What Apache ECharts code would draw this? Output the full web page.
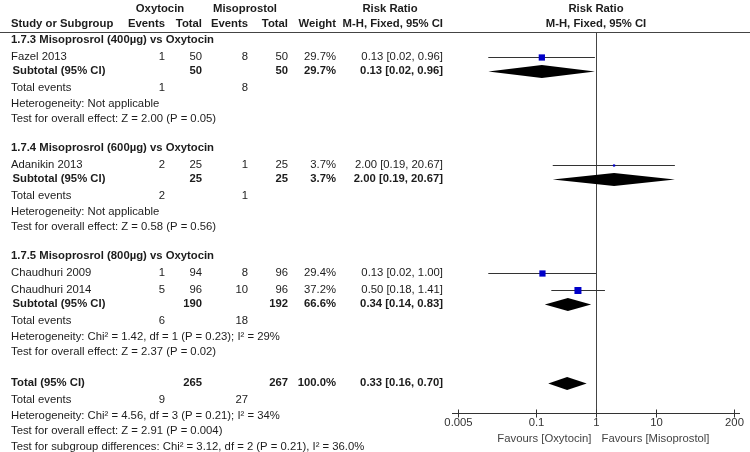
<!DOCTYPE html>
<html><head><meta charset="utf-8">
<script src="https://cdn.jsdelivr.net/npm/echarts@6/dist/echarts.min.js"></script>
<style>html,body{margin:0;padding:0;background:#fff}#c{width:750px;height:452px}</style>
</head><body><div id="c"></div>
<script>
// ---------- DATA ----------
const groupTitles = ['1.7.3 Misoprosrol (400µg) vs Oxytocin', '1.7.4 Misoprosrol (600µg) vs Oxytocin', '1.7.5 Misoprosrol (800µg) vs Oxytocin'];
const studyNames = ['Fazel 2013', 'Adanikin 2013', 'Chaudhuri 2009', 'Chaudhuri 2014'];
const studyGroup = [0, 1, 2, 2];
const oxEvents = [1, 2, 1, 5];
const oxTotal = [50, 25, 94, 96];
const misoEvents = [8, 1, 8, 10];
const misoTotal = [50, 25, 96, 96];
const studyWeight = [29.7, 3.7, 29.4, 37.2];
const studyRRText = ['0.13 [0.02, 0.96]', '2.00 [0.19, 20.67]', '0.13 [0.02, 1.00]', '0.50 [0.18, 1.41]'];
const studyRR = [0.125, 2.0, 0.128, 0.5];
const studyLow = [0.016, 0.19, 0.016, 0.18];
const studyHigh = [0.96, 20.67, 1.00, 1.41];

const subOxTotal = [50, 25, 190];
const subMisoTotal = [50, 25, 192];
const subWeight = [29.7, 3.7, 66.6];
const subRRText = ['0.13 [0.02, 0.96]', '2.00 [0.19, 20.67]', '0.34 [0.14, 0.83]'];
const subRR = [0.125, 2.0, 0.34];
const subLow = [0.016, 0.19, 0.14];
const subHigh = [0.96, 20.67, 0.83];
const subOxEvents = [1, 2, 6];
const subMisoEvents = [8, 1, 18];
const subHet = ['Heterogeneity: Not applicable', 'Heterogeneity: Not applicable', 'Heterogeneity: Chi² = 1.42, df = 1 (P = 0.23); I² = 29%'];
const subEffect = ['Test for overall effect: Z = 2.00 (P = 0.05)', 'Test for overall effect: Z = 0.58 (P = 0.56)', 'Test for overall effect: Z = 2.37 (P = 0.02)'];

const totalOxTotal = [265];
const totalMisoTotal = [267];
const totalWeight = [100.0];
const totalRRText = ['0.33 [0.16, 0.70]'];
const totalRR = [0.33];
const totalLow = [0.16];
const totalHigh = [0.70];
const totalOxEvents = [9];
const totalMisoEvents = [27];
const totalNotes = ['Heterogeneity: Chi² = 4.56, df = 3 (P = 0.21); I² = 34%', 'Test for overall effect: Z = 2.91 (P = 0.004)', 'Test for subgroup differences: Chi² = 3.12, df = 2 (P = 0.21), I² = 36.0%'];

const tickVals = [0.005, 0.1, 1, 10, 200];
const tickLabels = ['0.005', '0.1', '1', '10', '200'];
const favoursLeft = 'Favours [Oxytocin]';
const favoursRight = 'Favours [Misoprostol]';

// ---------- LAYOUT / STYLE ----------
const FONT = '11.3px "Liberation Sans", Arial, sans-serif';
const BOLD = 'bold 11.3px "Liberation Sans", Arial, sans-serif';
const TXT = '#1c1c1c';
const COL = {name: 11, sub: 12.5, oxE: 165, oxT: 202, miE: 248, miT: 288, w: 336, rr: 443};
const HEADER_LINE_Y = 32;
const AXIS_Y = 413;
const axisPad = Math.pow(10, 0.1);

const texts = [];
function t(str, x, y, align, bold, color) {
  texts.push({type: 'text', x: x, y: y, silent: true,
    style: {text: String(str), font: bold ? BOLD : FONT, fill: color || TXT, align: align || 'left', verticalAlign: 'middle'}});
}
// headers
t('Oxytocin', 160, 8.5, 'center', true);
t('Misoprostol', 245, 8.5, 'center', true);
t('Risk Ratio', 390, 8.5, 'center', true);
t('Risk Ratio', 596, 8.5, 'center', true);
t('Study or Subgroup', COL.name, 24, 'left', true);
t('Events', COL.oxE, 24, 'right', true);
t('Total', COL.oxT, 24, 'right', true);
t('Events', COL.miE, 24, 'right', true);
t('Total', COL.miT, 24, 'right', true);
t('Weight', COL.w, 24, 'right', true);
t('M-H, Fixed, 95% CI', COL.rr, 24, 'right', true);
t('M-H, Fixed, 95% CI', 596, 24, 'center', true);
texts.push({type: 'line', silent: true, shape: {x1: 0, y1: HEADER_LINE_Y + 0.5, x2: 750, y2: HEADER_LINE_Y + 0.5}, style: {stroke: '#444', lineWidth: 1}});

const marks = []; // [low, high, est, y, weight, kind]
let y = 40;
groupTitles.forEach((title, g) => {
  if (g > 0) y += 28.5;
  t(title, COL.name, y, 'left', true);
  let first = true;
  studyNames.forEach((nm, i) => {
    if (studyGroup[i] !== g) return;
    y += first ? 17.3 : 17; first = false;
    t(nm, COL.name, y);
    t(oxEvents[i], COL.oxE, y, 'right');
    t(oxTotal[i], COL.oxT, y, 'right');
    t(misoEvents[i], COL.miE, y, 'right');
    t(misoTotal[i], COL.miT, y, 'right');
    t(studyWeight[i].toFixed(1) + '%', COL.w, y, 'right');
    t(studyRRText[i], COL.rr, y, 'right');
    marks.push([studyLow[i], studyHigh[i], studyRR[i], y, studyWeight[i], 0]);
  });
  y += 14;
  t('Subtotal (95% CI)', COL.sub, y, 'left', true);
  t(subOxTotal[g], COL.oxT, y, 'right', true);
  t(subMisoTotal[g], COL.miT, y, 'right', true);
  t(subWeight[g].toFixed(1) + '%', COL.w, y, 'right', true);
  t(subRRText[g], COL.rr, y, 'right', true);
  marks.push([subLow[g], subHigh[g], subRR[g], y, subWeight[g], 1]);
  y += 16.7;
  t('Total events', COL.name, y);
  t(subOxEvents[g], COL.oxE, y, 'right');
  t(subMisoEvents[g], COL.miE, y, 'right');
  y += 16;
  t(subHet[g], COL.name, y);
  y += 15.3;
  t(subEffect[g], COL.name, y);
});
y += 31;
t('Total (95% CI)', COL.name, y, 'left', true);
t(totalOxTotal[0], COL.oxT, y, 'right', true);
t(totalMisoTotal[0], COL.miT, y, 'right', true);
t(totalWeight[0].toFixed(1) + '%', COL.w, y, 'right', true);
t(totalRRText[0], COL.rr, y, 'right', true);
marks.push([totalLow[0], totalHigh[0], totalRR[0], y, totalWeight[0], 1]);
y += 17;
t('Total events', COL.name, y);
t(totalOxEvents[0], COL.oxE, y, 'right');
t(totalMisoEvents[0], COL.miE, y, 'right');
y += 16; t(totalNotes[0], COL.name, y);
y += 15.3; t(totalNotes[1], COL.name, y);
y += 15.5; t(totalNotes[2], COL.name, y);

function renderMark(params, api) {
  const lo = api.value(0), hi = api.value(1), est = api.value(2), yy = api.value(3), w = api.value(4), kind = api.value(5);
  const pL = api.coord([lo, yy]), pH = api.coord([hi, yy]), pE = api.coord([est, yy]);
  const cy = Math.round(pE[1]);
  if (kind === 0) {
    const s = 1.15 * Math.sqrt(w);
    return {type: 'group', children: [
      {type: 'line', shape: {x1: pL[0], y1: cy + 0.5, x2: pH[0], y2: cy + 0.5}, style: {stroke: '#333', lineWidth: 1}},
      {type: 'rect', shape: {x: pE[0] - s / 2, y: cy + 0.5 - s / 2, width: s, height: s}, style: {fill: '#0000c8'}}
    ]};
  }
  const h = 6.5;
  return {type: 'polygon', shape: {points: [[pL[0], cy + 0.5], [pE[0], cy + 0.5 - h], [pH[0], cy + 0.5], [pE[0], cy + 0.5 + h]]}, style: {fill: '#000'}};
}

function renderAxis(params, api) {
  const cs = params.coordSys;
  const p1 = api.coord([api.value(0), api.value(1)]);
  const p0 = api.coord([api.value(0), HEADER_LINE_Y]);
  const x = Math.round(p1[0]) + 0.5, ya = Math.round(p1[1]) + 0.5;
  return {type: 'group', children: [
    {type: 'line', shape: {x1: x, y1: p0[1], x2: x, y2: ya}, style: {stroke: '#444', lineWidth: 1}},
    {type: 'line', shape: {x1: cs.x, y1: ya, x2: cs.x + cs.width, y2: ya}, style: {stroke: '#333', lineWidth: 1}},
    {type: 'text', x: x - 5, y: ya + 25, style: {text: favoursLeft, font: FONT, fill: '#444', align: 'right', verticalAlign: 'middle'}},
    {type: 'text', x: x + 5, y: ya + 25, style: {text: favoursRight, font: FONT, fill: '#444', align: 'left', verticalAlign: 'middle'}}
  ]};
}

function renderTick(params, api) {
  const p = api.coord([api.value(0), api.value(1)]);
  const x = Math.round(p[0]) + 0.5, ya = Math.round(p[1]) + 0.5;
  return {type: 'group', children: [
    {type: 'line', shape: {x1: x, y1: ya - 4, x2: x, y2: ya + 4}, style: {stroke: '#333', lineWidth: 1}},
    {type: 'text', x: x, y: ya + 9, style: {text: tickLabels[api.value(2)], font: FONT, fill: '#333', align: 'center', verticalAlign: 'middle'}}
  ]};
}

const chart = echarts.init(document.getElementById('c'), null, {renderer: 'canvas'});
chart.setOption({
  backgroundColor: '#fff',
  animation: false,
  grid: {left: 452, right: 10, top: 0, bottom: 0},
  xAxis: {type: 'log', logBase: 10, min: tickVals[0] / axisPad, max: tickVals[tickVals.length - 1] * axisPad,
    axisLine: {show: false}, axisTick: {show: false}, axisLabel: {show: false}, splitLine: {show: false}},
  yAxis: {type: 'value', min: 0, max: 452, inverse: true, show: false},
  graphic: texts,
  series: [
    {type: 'custom', renderItem: renderAxis, clip: false, silent: true, encode: {x: 0, y: 1}, data: [[1, AXIS_Y]]},
    {type: 'custom', renderItem: renderTick, clip: false, silent: true, encode: {x: 0, y: 1}, data: tickVals.map((v, i) => [v, AXIS_Y, i])},
    {type: 'custom', renderItem: renderMark, clip: false, silent: true, encode: {x: [0, 1, 2], y: 3}, data: marks}
  ]
});
</script></body></html>
